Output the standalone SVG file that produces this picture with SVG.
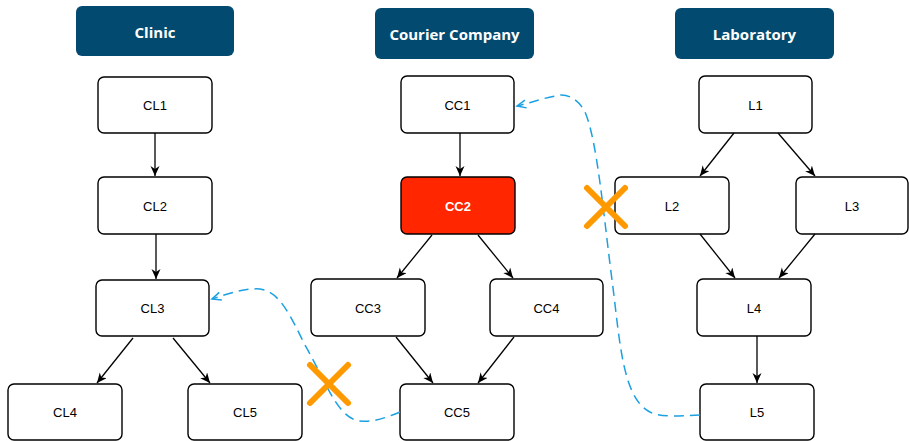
<svg xmlns="http://www.w3.org/2000/svg" width="909" height="441" viewBox="0 0 909 441">
<style>
.hdr{fill:#034a70}
.hdrt{fill:#fff;font-family:"Open Sans","Liberation Sans",sans-serif;font-weight:bold;font-size:15px;text-anchor:middle;dominant-baseline:central}
.nd{fill:#fff;stroke:#000;stroke-width:1.4}
.ndt{fill:#000;font-family:"Liberation Sans",Arial,sans-serif;font-size:13px;text-anchor:middle;dominant-baseline:central}
.red{fill:#ff2600}
.redt{fill:#fff;font-weight:bold}
.e{stroke:#000;stroke-width:1.3;fill:none;marker-end:url(#ah)}
.d{stroke:#1ba1e2;stroke-width:1.5;fill:none;stroke-dasharray:10 6;marker-end:url(#oh)}
.x{stroke:#ff9900;stroke-width:6;stroke-linecap:round}
</style>
<defs>
<marker id="ah" markerUnits="userSpaceOnUse" markerWidth="12" markerHeight="10" refX="10" refY="4.5" orient="auto">
<path d="M0,0 L10,4.5 L0,9 L3,4.5 Z" fill="#000"/>
</marker>
<marker id="oh" markerUnits="userSpaceOnUse" markerWidth="12" markerHeight="12" refX="10" refY="5" orient="auto">
<path d="M1,1 L10,5 L1,9" fill="none" stroke="#1ba1e2" stroke-width="1.5"/>
</marker>
</defs>
<g id="hdr-clinic"><rect class="hdr" x="76" y="6" width="158" height="50" rx="6"/><text class="hdrt" x="155" y="32">Clinic</text></g>
<g id="hdr-courier"><rect class="hdr" x="375" y="8" width="159" height="51" rx="6"/><text class="hdrt" x="454.5" y="34">Courier Company</text></g>
<g id="hdr-lab"><rect class="hdr" x="675" y="8" width="159" height="51" rx="6"/><text class="hdrt" x="754.5" y="34">Laboratory</text></g>

<g id="CL1"><rect class="nd" x="98" y="77" width="114" height="56" rx="6"/><text class="ndt" x="155" y="105">CL1</text></g>
<g id="CL2"><rect class="nd" x="98" y="177" width="114" height="57" rx="6"/><text class="ndt" x="155" y="206">CL2</text></g>
<g id="CL3"><rect class="nd" x="96" y="280" width="113" height="56" rx="6"/><text class="ndt" x="152.5" y="308">CL3</text></g>
<g id="CL4"><rect class="nd" x="8" y="384" width="114" height="56" rx="6"/><text class="ndt" x="65" y="412">CL4</text></g>
<g id="CL5"><rect class="nd" x="188" y="384" width="114" height="56" rx="6"/><text class="ndt" x="245" y="412">CL5</text></g>

<g id="CC1"><rect class="nd" x="401" y="76" width="113" height="57" rx="6"/><text class="ndt" x="457.5" y="105">CC1</text></g>
<g id="CC2"><rect class="nd red" x="401" y="177" width="114" height="57" rx="6"/><text class="ndt redt" x="458" y="206">CC2</text></g>
<g id="CC3"><rect class="nd" x="311" y="279" width="114" height="57" rx="6"/><text class="ndt" x="368" y="308">CC3</text></g>
<g id="CC4"><rect class="nd" x="490" y="279" width="113" height="57" rx="6"/><text class="ndt" x="546.5" y="308">CC4</text></g>
<g id="CC5"><rect class="nd" x="400" y="384" width="114" height="56" rx="6"/><text class="ndt" x="457" y="412">CC5</text></g>

<g id="L1"><rect class="nd" x="699" y="76" width="113" height="57" rx="6"/><text class="ndt" x="755.5" y="105">L1</text></g>
<g id="L2"><rect class="nd" x="615" y="177" width="114" height="57" rx="6"/><text class="ndt" x="672" y="206">L2</text></g>
<g id="L3"><rect class="nd" x="796" y="177" width="112" height="57" rx="6"/><text class="ndt" x="852" y="206">L3</text></g>
<g id="L4"><rect class="nd" x="697" y="279" width="114" height="57" rx="6"/><text class="ndt" x="754" y="308">L4</text></g>
<g id="L5"><rect class="nd" x="700" y="384" width="114" height="56" rx="6"/><text class="ndt" x="757" y="412">L5</text></g>

<g id="connectors">
<path class="e" d="M155,133 L155,176"/>
<path class="e" d="M156,234 L156,279"/>
<path class="e" d="M133,338 L97,383"/>
<path class="e" d="M173,338 L210,383"/>
<path class="e" d="M460,133 L460,176"/>
<path class="e" d="M432,235 L397,278"/>
<path class="e" d="M478,235 L513,278"/>
<path class="e" d="M396,337 L433,383"/>
<path class="e" d="M514,337 L478,383"/>
<path class="e" d="M734,133 L700,176"/>
<path class="e" d="M778,133 L815,176"/>
<path class="e" d="M700,234 L735,278"/>
<path class="e" d="M815,234 L779,278"/>
<path class="e" d="M757,336 L757,383"/>
<path class="d" d="M700,415 C680,416 665,417 655,414 C622,405 620,340 612,280 C603,210 597,140 585,112 C577,97 565,93 555,96 C540,99 530,103 517,106"/>
<path class="d" d="M400,412 C385,418 370,424 355,420 C335,412 325,380 305,345 C290,315 280,292 260,289 C245,288 230,293 212,299"/>
</g>
<g id="cross1"><path class="x" d="M587,188 L625,226 M625,188 L587,226"/></g>
<g id="cross2"><path class="x" d="M310,365 L348,403 M348,365 L310,403"/></g>
</svg>
